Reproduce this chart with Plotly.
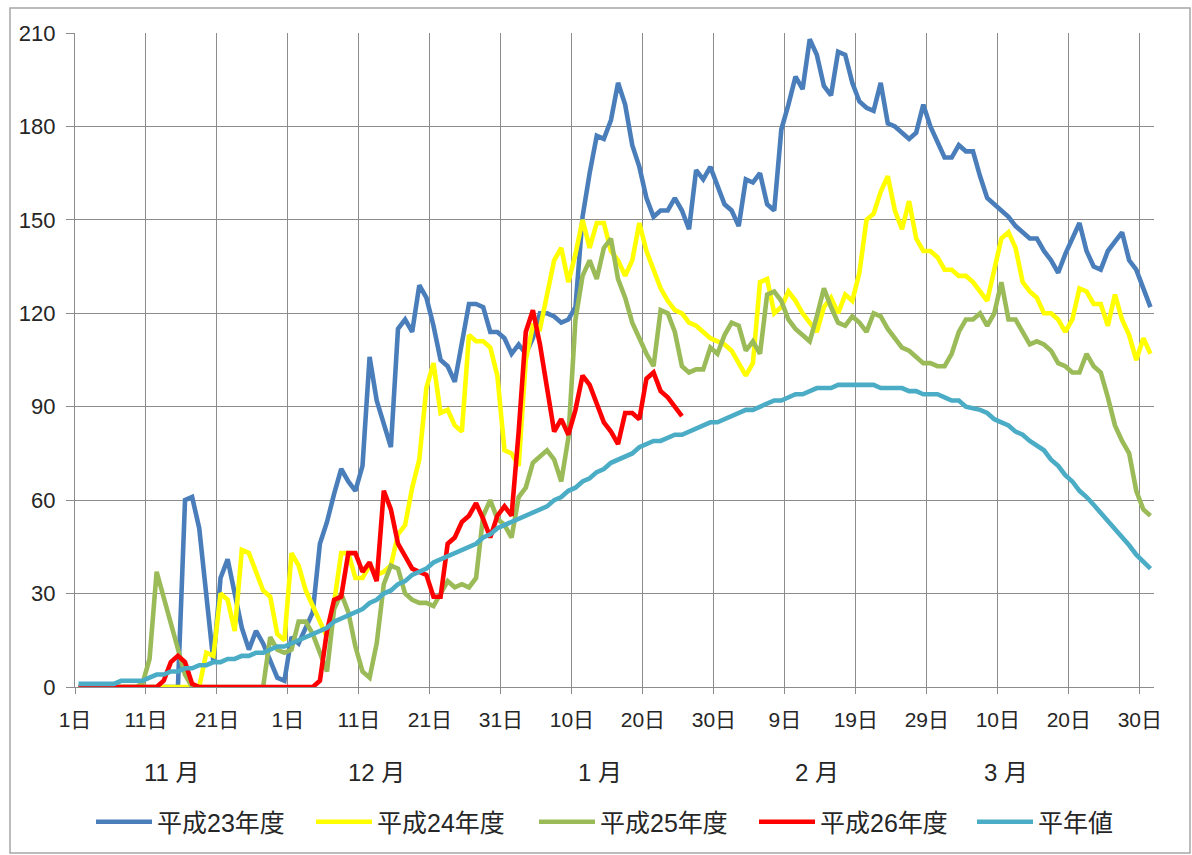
import plotly.graph_objects as go

# x index: day number from Nov 1 (0) to Mar 31 (151), leap-year February
day = list(range(152))

tick_days = [0, 10, 20, 30, 40, 50, 60, 70, 80, 90, 100, 110, 120, 130, 140, 150]
tick_labels = ["1日", "11日", "21日", "1日", "11日", "21日", "31日", "10日", "20日",
               "30日", "9日", "19日", "29日", "10日", "20日", "30日"]

month_labels = ["11 月", "12 月", "1 月", "2 月", "3 月"]
month_label_px = [172, 376, 600, 817, 1006]

series_names = ["平成23年度", "平成24年度", "平成25年度", "平成26年度", "平年値"]

h23 = [0] * 15 + [
    60, 61, 51, 28, 8, 35, 41, 30, 19, 12, 18, 14, 8, 3, 2, 16, 14, 19, 24, 46,
    53, 62, 70, 66, 63, 71, 106, 92, 84, 77, 115, 118, 114, 129, 125, 116, 105, 103, 98, 110,
    123, 123, 122, 114, 114, 112, 107, 110, 107, 112, 120, 120, 119, 117, 118, 122, 151, 165, 177, 176,
    182, 194, 187, 174, 167, 157, 151, 153, 153, 157, 153, 147, 166, 163, 167, 161, 155, 153, 148, 163,
    162, 165, 155, 153, 179, 187, 196, 192, 208, 203, 193, 190, 204, 203, 194, 188, 186, 185, 194, 181,
    180, 178, 176, 178, 187, 180, 175, 170, 170, 174, 172, 172, 164, 157, 155, 153, 151, 148, 146, 144,
    144, 140, 137, 133, 139, 144, 149, 140, 135, 134, 140, 143, 146, 137, 134, 128, 122]

h24 = [0] * 18 + [
    11, 10, 30, 28, 18, 44, 43, 37, 31, 29, 17, 15, 43, 39, 31, 26, 21, 16, 27, 43,
    43, 35, 35, 39, 36, 37, 39, 49, 52, 64, 73, 96, 104, 88, 89, 84, 82, 113, 111, 111,
    109, 100, 76, 75, 71, 105, 116, 115, 126, 137, 141, 130, 139, 150, 141, 149, 149, 140, 137, 132,
    137, 149, 140, 134, 128, 124, 121, 120, 117, 116, 114, 112, 111, 110, 108, 104, 100, 104, 130, 131,
    120, 122, 127, 124, 120, 117, 114, 122, 125, 120, 126, 124, 133, 150, 152, 159, 164, 153, 147, 156,
    144, 140, 140, 138, 134, 134, 132, 132, 130, 127, 124, 134, 144, 146, 141, 130, 127, 125, 120, 120,
    118, 114, 118, 128, 127, 123, 123, 116, 126, 118, 113, 105, 112, 107]

h25 = [0] * 9 + [1, 9, 37, 29, 20, 12, 4] + [0] * 11 + [
    16, 12, 11, 12, 21, 21, 17, 11, 5, 25, 30, 24, 13, 5, 3, 14, 33, 39, 38, 30,
    28, 27, 27, 26, 30, 34, 32, 33, 32, 35, 55, 60, 54, 52, 48, 61, 64, 72, 74, 76,
    73, 66, 80, 118, 132, 137, 131, 141, 144, 131, 125, 117, 112, 107, 103, 121, 120, 114, 103, 101,
    102, 102, 109, 107, 113, 117, 116, 108, 111, 107, 126, 127, 124, 118, 115, 113, 111, 119, 128, 122,
    117, 116, 119, 117, 114, 120, 119, 115, 112, 109, 108, 106, 104, 104, 103, 103, 107, 114, 118, 118,
    120, 116, 120, 130, 118, 118, 114, 110, 111, 110, 108, 104, 103, 101, 101, 107, 103, 101, 93, 84,
    79, 75, 63, 57, 55]

h26 = [0] * 12 + [2, 8, 10, 8, 1] + [0] * 17 + [
    2, 18, 28, 29, 43, 43, 37, 40, 34, 63, 57, 46, 42, 38, 37, 36, 29, 29, 46, 48,
    53, 55, 59, 54, 48, 55, 58, 55, 82, 114, 121, 110, 96, 82, 86, 81, 89, 100, 97, 91,
    85, 82, 78, 88, 88, 86, 99, 101, 95, 93, 90, 87]
h26 = h26 + [None] * (152 - len(h26))

normal = [
    1, 1, 1, 1, 1, 1, 2, 2, 2, 2, 3, 4, 4, 5, 5, 6, 6, 7, 7, 8,
    8, 9, 9, 10, 10, 11, 11, 12, 13, 13, 14, 15, 16, 17, 18, 19, 21, 22, 23, 24,
    25, 27, 28, 30, 31, 33, 34, 36, 37, 38, 40, 41, 42, 43, 44, 45, 46, 48, 49, 51,
    52, 53, 54, 55, 56, 57, 58, 60, 61, 63, 64, 66, 67, 69, 70, 72, 73, 74, 75, 77,
    78, 79, 79, 80, 81, 81, 82, 83, 84, 85, 85, 86, 87, 88, 89, 89, 90, 91, 92, 92,
    93, 94, 94, 95, 96, 96, 96, 97, 97, 97, 97, 97, 97, 96, 96, 96, 96, 95, 95, 94,
    94, 94, 93, 92, 92, 90, 89.5, 89, 88, 86, 85, 84, 82, 81, 79, 77.5, 76, 73, 71, 68,
    66, 63, 61, 58.5, 56, 53.5, 51, 48, 45.5, 42.5, 40, 38]

series = [h23, h24, h25, h26, normal]
colors = ["#4A7EBB", "#FFFF00", "#9BBB59", "#FF0000", "#4BACC6"]

for s in series:
    assert len(s) == 152, len(s)

# ---- geometry (pixels) ----
W, H = 1192, 855
L, R, T, B = 75, 1154, 33, 687
pw, ph = R - L, B - T
legend_px = [91, 311, 534, 754, 972]   # left edge of each legend entry


def px_x(p):
    return (p - L) / pw


def px_y(p):
    return (B - p) / ph


FONT = "Liberation Sans, Noto Sans CJK JP, sans-serif"
GRID = "#8c8c8c"

fig = go.Figure()
legend_ids = ["legend", "legend2", "legend3", "legend4", "legend5"]
for name, s, c, lid in zip(series_names, series, colors, legend_ids):
    fig.add_trace(go.Scatter(
        x=day, y=s, name=name, mode="lines",
        line=dict(color=c, width=4.6, shape="linear"),
        connectgaps=False, legend=lid,
    ))

layout_legends = {}
for lid, lx in zip(legend_ids, legend_px):
    layout_legends[lid] = dict(
        orientation="h", xref="container", yref="container",
        x=lx / W, y=1 - 822 / H, xanchor="left", yanchor="middle",
        font=dict(size=25, color="#262626"), itemwidth=56,
        bgcolor="rgba(0,0,0,0)",
    )

fig.update_layout(
    width=W, height=H, autosize=False,
    margin=dict(l=L, r=W - R, t=T, b=H - B, pad=0, autoexpand=False),
    paper_bgcolor="white", plot_bgcolor="white",
    font=dict(family=FONT, size=22, color="#262626"),
    showlegend=True,
    xaxis=dict(
        range=[-0.5, 151.5], tickmode="array",
        tickvals=[d - 0.5 for d in tick_days], ticktext=tick_labels,
        showgrid=True, gridcolor=GRID, gridwidth=1.3,
        showline=True, linecolor=GRID, linewidth=1.3,
        ticks="outside", ticklen=6, tickcolor=GRID, tickwidth=1.3,
        zeroline=False, tickfont=dict(size=21), ticklabelstandoff=8,
    ),
    yaxis=dict(
        range=[0, 210], tickmode="linear", tick0=0, dtick=30,
        showgrid=True, gridcolor=GRID, gridwidth=1.3,
        showline=True, linecolor=GRID, linewidth=1.3,
        ticks="outside", ticklen=8, tickcolor=GRID, tickwidth=1.3,
        zeroline=False, tickfont=dict(size=22), ticklabelstandoff=6,
    ),
    **layout_legends,
)

for lab, pxx in zip(month_labels, month_label_px):
    fig.add_annotation(
        text=lab, xref="paper", yref="paper", x=px_x(pxx), y=px_y(772),
        showarrow=False, xanchor="center", yanchor="middle",
        font=dict(size=24, color="#262626"),
    )

# outer chart border
fig.add_shape(
    type="rect", xref="paper", yref="paper",
    x0=px_x(10), x1=px_x(1190), y0=px_y(853), y1=px_y(8),
    line=dict(color="#a6a6a6", width=1.5), fillcolor="rgba(0,0,0,0)", layer="below",
)

fig.write_html(
    "out.html",
    config={"displayModeBar": False},
    post_script="document.body.style.margin='0';document.body.style.overflow='hidden';",
)
